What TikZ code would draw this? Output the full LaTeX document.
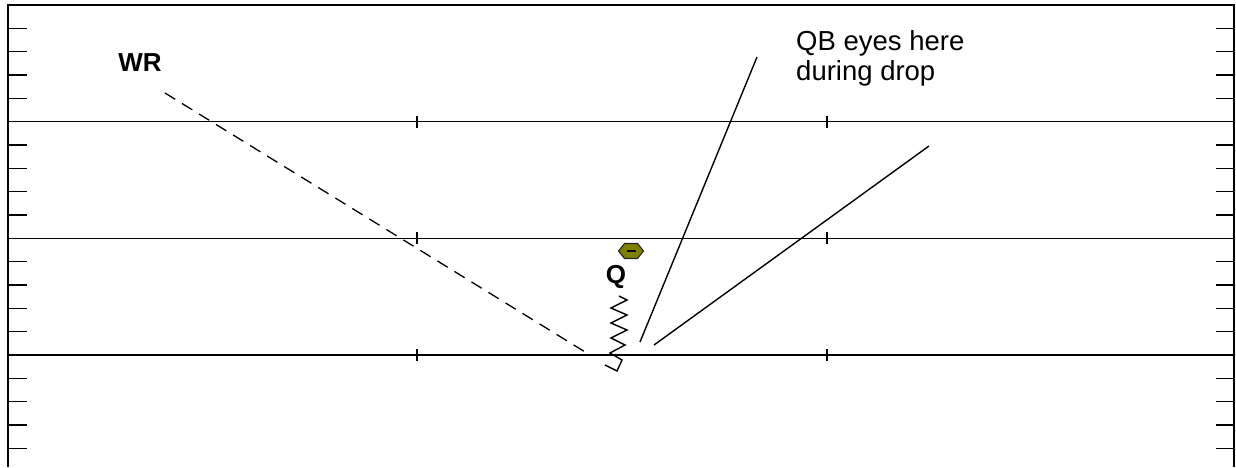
\documentclass[tikz,border=0pt]{standalone}
\usepackage{fontspec}
\setmainfont{Liberation Sans}
\usepackage{xcolor}
\usepackage{tikz}
\usetikzlibrary{arrows.meta, positioning}
\definecolor{ballolive}{HTML}{808000}
\tikzset{
  fieldline/.style={draw=black,line width=1.6pt},
  yardtick/.style={draw=black,line width=1.6pt},
  hashtick/.style={draw=black,line width=1.6pt},
  routeline/.style={draw=black,line width=1.3pt,dash pattern=on 12pt off 8pt},
  eyeline/.style={draw=black,line width=1.4pt},
  dropline/.style={draw=black,line width=1.4pt,line join=miter},
  plrlabel/.style={inner sep=0pt,font=\fontsize{26}{30}\selectfont\bfseries},
  notelabel/.style={inner sep=0pt,align=left,font=\fontsize{27.5}{30.5}\selectfont},
  ballfill/.style={draw=black!85,fill=ballolive,line width=1.1pt},
}

\begin{document}
\begin{tikzpicture}[x=1pt,y=-1pt]
  \useasboundingbox (0,0) rectangle (1236,467);
  % field frame and 5 yard lines
  \coordinate (fTL) at (8,5);
  \coordinate (fTR) at (1234,5);
  \coordinate (fBL) at (8,467);
  \coordinate (fBR) at (1234,467);
  \draw[fieldline] (fBL) -- (fTL) -- (fTR) -- (fBR);
  \foreach \ln in {1,2,3} {
    \coordinate (lnL\ln) at (8,5+116.67*\ln);
    \coordinate (lnR\ln) at (1234,5+116.67*\ln);
    \draw[fieldline] (lnL\ln) -- (lnR\ln);
    \foreach \hx in {417,827}
      \draw[hashtick] (\hx,5+116.67*\ln-6) -- (\hx,5+116.67*\ln+6);
  }
  % sideline yard ticks
  \foreach \ln in {0,1,2,3} {
    \foreach \yd in {1,...,4} {
      \draw[yardtick] (8,5+116.67*\ln+23.33*\yd) -- ++(19,0);
      \draw[yardtick] (1234,5+116.67*\ln+23.33*\yd) -- ++(-18,0);
    }
  }
  % players
  \node[plrlabel] (nWR) at (140,63) {WR};
  \node[plrlabel] (nQ) at (616,277) {Q};
  \coordinate (ball) at (631,251);
  \draw[ballfill] (ball) ++(-12.5,0) -- ++(6,-7.5) -- ++(13,0) -- ++(6,7.5)
    -- ++(-6,7.5) -- ++(-13,0) -- cycle;
  \draw[line width=1.3pt] (ball) ++(-4.5,0) -- ++(9,0);
  % receiver route
  \coordinate (wrStart) at (165,93);
  \coordinate (wrEnd) at (590,355);
  \draw[routeline] (wrStart) -- (wrEnd);
  % qb drop
  \coordinate (qbTop) at (619,296);
  \draw[dropline] (qbTop) -- (627,300) -- (611,308) -- (627,315) -- (611,323)
    -- (627,330) -- (611,338) -- (625,345) -- (610,353) -- (622,360)
    -- (617,371) -- (605,365);
  % eye lines
  \coordinate (eyeAtop) at (757,57);
  \coordinate (eyeAbot) at (640,342);
  \coordinate (eyeBtop) at (929,146);
  \coordinate (eyeBbot) at (654,345);
  \draw[eyeline] (eyeAbot) -- (eyeAtop);
  \draw[eyeline] (eyeBbot) -- (eyeBtop);
  \node[notelabel,anchor=north west] (nNote) at (796,30) {QB eyes here\\during drop};
\end{tikzpicture}
\end{document}
